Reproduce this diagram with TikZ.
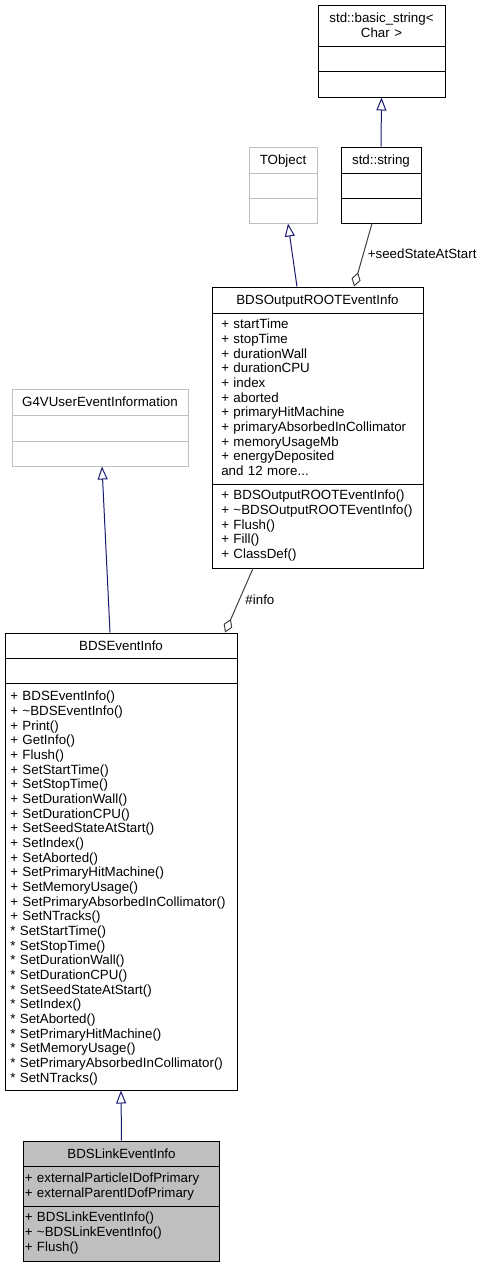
\documentclass[tikz,border=0pt]{standalone}
\usepackage{fontspec}
\setmainfont{Liberation Sans}
\usetikzlibrary{arrows.meta}
\definecolor{edgeblue}{HTML}{191970}
\definecolor{edgegray}{HTML}{404040}
\definecolor{boxgray}{HTML}{BFBFBF}

\begin{document}
\begin{tikzpicture}[x=0.75pt, y=-0.75pt,
        every node/.style={font=\fontsize{10}{11}\selectfont, inner sep=0pt},
        cls/.style={draw, line width=0.75pt, fill=white},
        ext/.style={cls, draw=boxgray},
        cur/.style={cls, fill=boxgray},
        title/.style={anchor=base, align=center, text width=170pt},
        members/.style={anchor=base west, align=left, text width=170pt},
        inherit/.style={draw=edgeblue, line width=0.75pt, -{Triangle[open, fill=white, length=9.75pt, width=7.5pt]}},
        owner/.style={draw=edgegray, line width=0.75pt, -{Diamond[open, fill=white, length=11pt, width=7pt]}},
        lbl/.style={anchor=west}]
        \useasboundingbox (0,0) rectangle (483,1267);
        % class boxes
        \node[cls, minimum width=95.25pt, minimum height=69pt] (basic) at (381.5,51) {};
        \node[cls, minimum width=60pt, minimum height=57pt] (string) at (381,185) {};
        \node[ext, minimum width=51pt, minimum height=57pt] (tobject) at (283,185) {};
        \node[cls, minimum width=158.25pt, minimum height=210.75pt] (rootinfo) at (317.5,427.5) {};
        \node[ext, minimum width=132pt, minimum height=57.75pt] (g4info) at (100,427.5) {};
        \node[cls, minimum width=174pt, minimum height=342.75pt] (eventinfo) at (121,861.5) {};
        \node[cur, minimum width=147pt, minimum height=90pt] (linkinfo) at (121.5,1201) {};
        % compartments
        \draw[line width=0.75pt] (basic.west |- 0,46) -- (basic.east |- 0,46);
        \draw[line width=0.75pt] (basic.west |- 0,71) -- (basic.east |- 0,71);
        \draw[line width=0.75pt] (string.west |- 0,173) -- (string.east |- 0,173);
        \draw[line width=0.75pt] (string.west |- 0,198) -- (string.east |- 0,198);
        \draw[line width=0.75pt, boxgray] (tobject.west |- 0,173) -- (tobject.east |- 0,173);
        \draw[line width=0.75pt, boxgray] (tobject.west |- 0,198) -- (tobject.east |- 0,198);
        \draw[line width=0.75pt] (rootinfo.west |- 0,313) -- (rootinfo.east |- 0,313);
        \draw[line width=0.75pt] (rootinfo.west |- 0,484) -- (rootinfo.east |- 0,484);
        \draw[line width=0.75pt, boxgray] (g4info.west |- 0,415) -- (g4info.east |- 0,415);
        \draw[line width=0.75pt, boxgray] (g4info.west |- 0,441) -- (g4info.east |- 0,441);
        \draw[line width=0.75pt] (eventinfo.west |- 0,658) -- (eventinfo.east |- 0,658);
        \draw[line width=0.75pt] (eventinfo.west |- 0,683) -- (eventinfo.east |- 0,683);
        \draw[line width=0.75pt] (linkinfo.west |- 0,1166) -- (linkinfo.east |- 0,1166);
        \draw[line width=0.75pt] (linkinfo.west |- 0,1206) -- (linkinfo.east |- 0,1206);
        % names
        \node[title] (basic-name) at (381.5,22.7) {std::basic\_string<\\Char >};
        \node[title] (string-name) at (381,164.5) {std::string};
        \node[title] (tobject-name) at (283,164.5) {TObject};
        \node[title] (rootinfo-name) at (317.5,304.7) {BDSOutputROOTEventInfo};
        \node[title] (g4info-name) at (100,406.7) {G4VUserEventInformation};
        \node[title] (eventinfo-name) at (121,650.2) {BDSEventInfo};
        \node[title] (linkinfo-name) at (121.5,1158.2) {BDSLinkEventInfo};
        % members
        \node[members] (rootinfo-attr) at (221,328.7) {+ startTime\\+ stopTime\\+ durationWall\\+ durationCPU\\+ index\\+ aborted\\+ primaryHitMachine\\+ primaryAbsorbedInCollimator\\+ memoryUsageMb\\+ energyDeposited\\and 12 more...};
        \node[members] (rootinfo-ops) at (221,499.7) {+ BDSOutputROOTEventInfo()\\+ \textasciitilde BDSOutputROOTEventInfo()\\+ Flush()\\+ Fill()\\+ ClassDef()};
        \node[members] (eventinfo-ops) at (10,700.7) {+ BDSEventInfo()\\+ \textasciitilde BDSEventInfo()\\+ Print()\\+ GetInfo()\\+ Flush()\\+ SetStartTime()\\+ SetStopTime()\\+ SetDurationWall()\\+ SetDurationCPU()\\+ SetSeedStateAtStart()\\+ SetIndex()\\+ SetAborted()\\+ SetPrimaryHitMachine()\\+ SetMemoryUsage()\\+ SetPrimaryAbsorbedInCollimator()\\+ SetNTracks()\\{*} SetStartTime()\\{*} SetStopTime()\\{*} SetDurationWall()\\{*} SetDurationCPU()\\{*} SetSeedStateAtStart()\\{*} SetIndex()\\{*} SetAborted()\\{*} SetPrimaryHitMachine()\\{*} SetMemoryUsage()\\{*} SetPrimaryAbsorbedInCollimator()\\{*} SetNTracks()};
        \node[members] (linkinfo-attr) at (24.5,1182.7) {+ externalParticleIDofPrimary\\+ externalParentIDofPrimary};
        \node[members] (linkinfo-ops) at (24.5,1221.7) {+ BDSLinkEventInfo()\\+ \textasciitilde BDSLinkEventInfo()\\+ Flush()};
        % relations
        \draw[inherit] (string.north) -- (basic.south);
        \draw[inherit] ([xshift=-15.4pt]rootinfo.north) -- ([xshift=3.75pt]tobject.south);
        \draw[owner] ([xshift=-6.75pt]string.south) -- node[lbl, pos=0.48, xshift=3pt] (seed-lbl) {+seedStateAtStart} ([xshift=27.4pt]rootinfo.north);
        \draw[inherit] ([xshift=-8.25pt]eventinfo.north) -- ([xshift=1.5pt]g4info.south);
        \draw[owner] ([xshift=-48.4pt]rootinfo.south) -- node[lbl, pos=0.49, xshift=4.3pt] (info-lbl) {\#info} ([xshift=78pt]eventinfo.north);
        \draw[inherit] (linkinfo.north) -- (eventinfo.south);
    \end{tikzpicture}
\end{document}
